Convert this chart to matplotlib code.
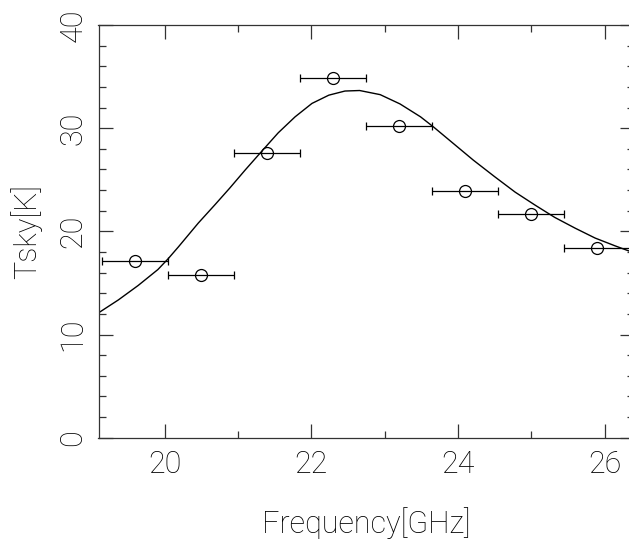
import matplotlib
matplotlib.use('Agg')
import matplotlib.pyplot as plt
from matplotlib.ticker import MultipleLocator

# measured sky temperature per channel
freq = [19.6, 20.5, 21.4, 22.3, 23.2, 24.1, 25.0, 25.9]
tsky = [17.1, 15.8, 27.6, 34.9, 30.2, 23.9, 21.7, 18.4]
bandwidth = [0.45] * 8

# model curve
model_freq = [19.10, 19.37, 19.64, 19.91, 20.05, 20.19, 20.46, 20.69, 20.89,
              21.10, 21.33, 21.55, 21.78, 22.01, 22.24, 22.46, 22.66, 22.94,
              23.21, 23.49, 23.67, 23.94, 24.21, 24.50, 24.78, 25.05, 25.32,
              25.60, 25.87, 26.14, 26.33, 26.40]
model_tsky = [12.1, 13.35, 14.75, 16.3, 17.35, 18.5, 20.8, 22.6, 24.2,
              25.95, 27.8, 29.55, 31.1, 32.4, 33.2, 33.6, 33.65, 33.25,
              32.35, 31.1, 30.1, 28.5, 26.9, 25.3, 23.8, 22.55, 21.35,
              20.3, 19.35, 18.6, 18.1, 17.95]

plt.rcParams['font.family'] = ['Roboto', 'DejaVu Sans']
plt.rcParams['font.weight'] = 'light'
plt.rcParams['axes.labelweight'] = 'light'

fig = plt.figure(figsize=(6.29, 5.40), dpi=100)
ax = fig.add_axes([98.5 / 629, 102.3 / 540, (634 - 98.5) / 629, 412.7 / 540])

ax.plot(model_freq, model_tsky, color='black', lw=1.0)
ax.errorbar(freq, tsky, xerr=bandwidth, fmt='o', mfc='none', mec='black',
            ms=8.6, mew=0.9, ecolor='black', elinewidth=0.9, capsize=2.8,
            capthick=0.9)

ax.set_xlim(19.1, 26.4)
ax.set_ylim(0, 40)
ax.xaxis.set_major_locator(MultipleLocator(2))
ax.xaxis.set_minor_locator(MultipleLocator(1))
ax.yaxis.set_major_locator(MultipleLocator(10))
ax.yaxis.set_minor_locator(MultipleLocator(2))

ax.tick_params(which='both', direction='in', top=True, right=True,
               width=0.9, color='#333333', labelsize=22)
ax.tick_params(which='major', length=9.8)
ax.tick_params(which='minor', length=5.0)
ax.tick_params(axis='x', pad=9)
ax.tick_params(axis='y', pad=8, labelrotation=90)
for lab in ax.get_yticklabels():
    lab.set_verticalalignment('center')

for s in ax.spines.values():
    s.set_linewidth(0.9)
    s.set_color('#333333')

ax.set_xlabel('Frequency[GHz]', fontsize=22, fontweight='light', labelpad=20)
ax.set_ylabel('Tsky[K]', fontsize=22, fontweight='light', labelpad=12)

plt.savefig('out.png', dpi=100)
